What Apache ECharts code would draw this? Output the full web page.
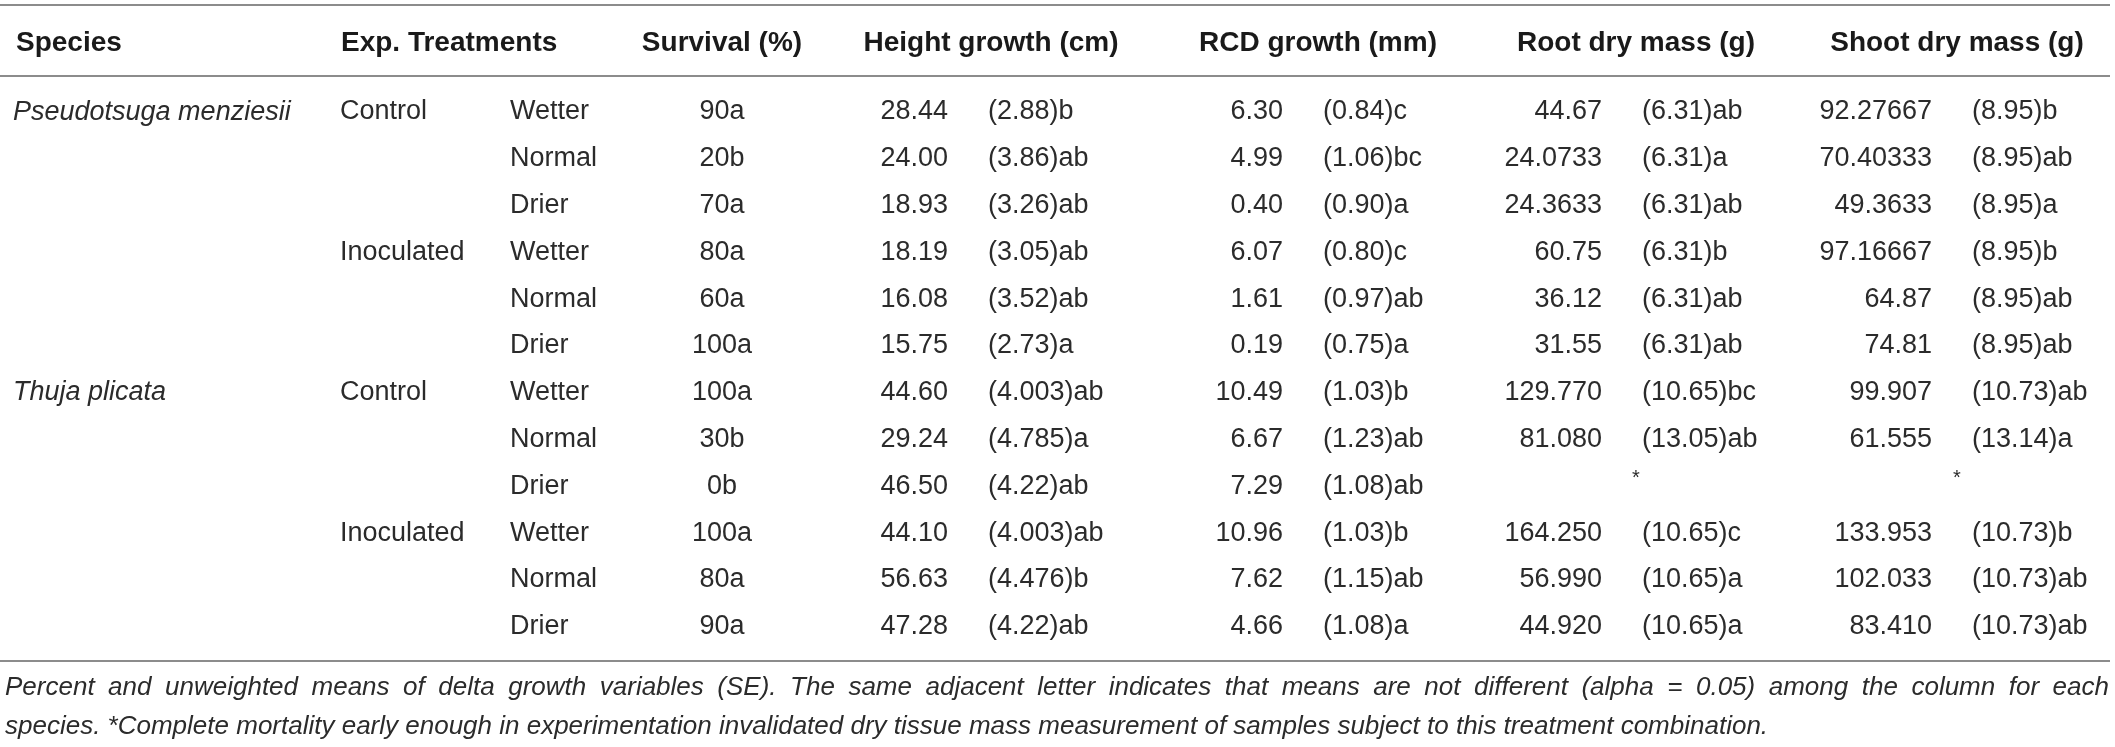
<!DOCTYPE html>
<html><head><meta charset="utf-8">
<script src="https://cdn.jsdelivr.net/npm/echarts@6/dist/echarts.min.js"></script>
<style>html,body{margin:0;padding:0;background:#fff}#c{width:2115px;height:747px}</style>
</head><body><div id="c"></div>
<script>
// ---- data ----
const speciesNames = ['Pseudotsuga menziesii', 'Thuja plicata'];
const treatmentNames = ['Control', 'Inoculated'];
const moistureNames = ['Wetter', 'Normal', 'Drier'];
const headerLabels = ['Species', 'Exp. Treatments', 'Survival (%)', 'Height growth (cm)', 'RCD growth (mm)', 'Root dry mass (g)', 'Shoot dry mass (g)'];
const survival = ['90a', '20b', '70a', '80a', '60a', '100a', '100a', '30b', '0b', '100a', '80a', '90a'];
const heightMean = ['28.44', '24.00', '18.93', '18.19', '16.08', '15.75', '44.60', '29.24', '46.50', '44.10', '56.63', '47.28'];
const heightSE = ['(2.88)b', '(3.86)ab', '(3.26)ab', '(3.05)ab', '(3.52)ab', '(2.73)a', '(4.003)ab', '(4.785)a', '(4.22)ab', '(4.003)ab', '(4.476)b', '(4.22)ab'];
const rcdMean = ['6.30', '4.99', '0.40', '6.07', '1.61', '0.19', '10.49', '6.67', '7.29', '10.96', '7.62', '4.66'];
const rcdSE = ['(0.84)c', '(1.06)bc', '(0.90)a', '(0.80)c', '(0.97)ab', '(0.75)a', '(1.03)b', '(1.23)ab', '(1.08)ab', '(1.03)b', '(1.15)ab', '(1.08)a'];
const rootMean = ['44.67', '24.0733', '24.3633', '60.75', '36.12', '31.55', '129.770', '81.080', '*', '164.250', '56.990', '44.920'];
const rootSE = ['(6.31)ab', '(6.31)a', '(6.31)ab', '(6.31)b', '(6.31)ab', '(6.31)ab', '(10.65)bc', '(13.05)ab', '', '(10.65)c', '(10.65)a', '(10.65)a'];
const shootMean = ['92.27667', '70.40333', '49.3633', '97.16667', '64.87', '74.81', '99.907', '61.555', '*', '133.953', '102.033', '83.410'];
const shootSE = ['(8.95)b', '(8.95)ab', '(8.95)a', '(8.95)b', '(8.95)ab', '(8.95)ab', '(10.73)ab', '(13.14)a', '', '(10.73)b', '(10.73)ab', '(10.73)ab'];
const footnoteLines = [
  'Percent and unweighted means of delta growth variables (SE). The same adjacent letter indicates that means are not different (alpha = 0.05) among the column for each',
  'species. *Complete mortality early enough in experimentation invalidated dry tissue mass measurement of samples subject to this treatment combination.'
];

// ---- layout / style ----
const W = 2115, H = 747;
const FONT = '"Liberation Sans", Arial, Helvetica, sans-serif';
const BODY = 27, HEAD = 28, NOTE = 26;
const TXT = '#2b2b2b';
const col = {
  species: 13, treat: 340, moist: 510, surv: 722,
  hM: 948, hS: 988, rM: 1283, rS: 1323, roM: 1602, roS: 1642, shM: 1932, shS: 1972,
  heads: [16, 341, 722, 991, 1318, 1636, 1957],
  headAlign: ['left', 'left', 'center', 'center', 'center', 'center', 'center']
};
const noteLeft = 5, noteRight = 2109, noteTop = 688, noteStep = 39;

const rows = [];
const rowData = [];
speciesNames.forEach((sp, s) => treatmentNames.forEach((tr, t) => moistureNames.forEach((m, k) => {
  const i = rows.length;
  rows.push(sp + '|' + tr + '|' + m);
  rowData.push([0, i]);
})));

const chart = echarts.init(document.getElementById('c'), null, {renderer: 'canvas'});

function renderItem(params, api) {
  const i = api.value(1);
  const y = api.coord([0, i])[1];
  const X = v => api.coord([v, i])[0];
  const kids = [];
  const t = (text, x, align, extra) => {
    if (!text) return;
    kids.push({type: 'text', style: Object.assign({
      text: text, x: x, y: y, align: align, verticalAlign: 'middle',
      fontFamily: FONT, fontSize: BODY, fill: TXT
    }, extra || {})});
  };
  const s = Math.floor(i / 6), tr = Math.floor((i % 6) / 3), m = i % 3;
  if (i % 6 === 0) t(speciesNames[s], X(col.species), 'left', {fontStyle: 'italic'});
  if (i % 3 === 0) t(treatmentNames[tr], X(col.treat), 'left');
  t(moistureNames[m], X(col.moist), 'left');
  t(survival[i], X(col.surv), 'center');
  t(heightMean[i], X(col.hM), 'right');
  t(heightSE[i], X(col.hS), 'left');
  t(rcdMean[i], X(col.rM), 'right');
  t(rcdSE[i], X(col.rS), 'left');
  if (rootSE[i]) { t(rootMean[i], X(col.roM), 'right'); t(rootSE[i], X(col.roS), 'left'); }
  else t(rootMean[i], X(col.heads[5]), 'center', {fontSize: 20, verticalAlign: 'bottom', y: y + 2});
  if (shootSE[i]) { t(shootMean[i], X(col.shM), 'right'); t(shootSE[i], X(col.shS), 'left'); }
  else t(shootMean[i], X(col.heads[6]), 'center', {fontSize: 20, verticalAlign: 'bottom', y: y + 2});
  return {type: 'group', children: kids};
}

chart.setOption({
  animation: false,
  backgroundColor: '#fff',
  grid: {left: 0, right: 0, top: 88.6, bottom: 96.8},
  xAxis: {type: 'value', min: 0, max: W, show: false},
  yAxis: {type: 'category', data: rows, inverse: true, show: false},
  series: [{type: 'custom', renderItem: renderItem, data: rowData, silent: true}]
});

// headers, rules and footnote
const px = v => chart.convertToPixel({xAxisIndex: 0}, v);
const graphics = [];
const rule = y => graphics.push({type: 'line', shape: {x1: px(0), y1: y, x2: px(2110), y2: y}, style: {stroke: '#8c8c8c', lineWidth: 2}, silent: true});
rule(5); rule(76); rule(661);
headerLabels.forEach((h, k) => graphics.push({type: 'text', style: {
  text: h, x: px(col.heads[k]), y: 43, align: col.headAlign[k], verticalAlign: 'middle',
  fontFamily: FONT, fontSize: HEAD, fontWeight: 'bold', fill: '#1a1a1a'}, silent: true}));

// footnote: first line justified to the full width, second left-aligned
const ctx = document.createElement('canvas').getContext('2d');
ctx.font = 'italic ' + NOTE + 'px ' + FONT;
const noteStyle = {verticalAlign: 'middle', fontFamily: FONT, fontSize: NOTE, fontStyle: 'italic', fill: TXT};
footnoteLines.forEach((f, k) => {
  const y = noteTop + k * noteStep;
  if (k === 0) {
    const words = f.split(' ');
    const widths = words.map(w => ctx.measureText(w).width);
    const total = widths.reduce((a, b) => a + b, 0);
    const gap = (px(noteRight) - px(noteLeft) - total) / (words.length - 1);
    let x = px(noteLeft);
    words.forEach((w, j) => {
      graphics.push({type: 'text', style: Object.assign({text: w, x: x, y: y, align: 'left'}, noteStyle), silent: true});
      x += widths[j] + gap;
    });
  } else {
    graphics.push({type: 'text', style: Object.assign({text: f, x: px(noteLeft), y: y, align: 'left'}, noteStyle), silent: true});
  }
});
chart.setOption({graphic: graphics});
</script></body></html>
